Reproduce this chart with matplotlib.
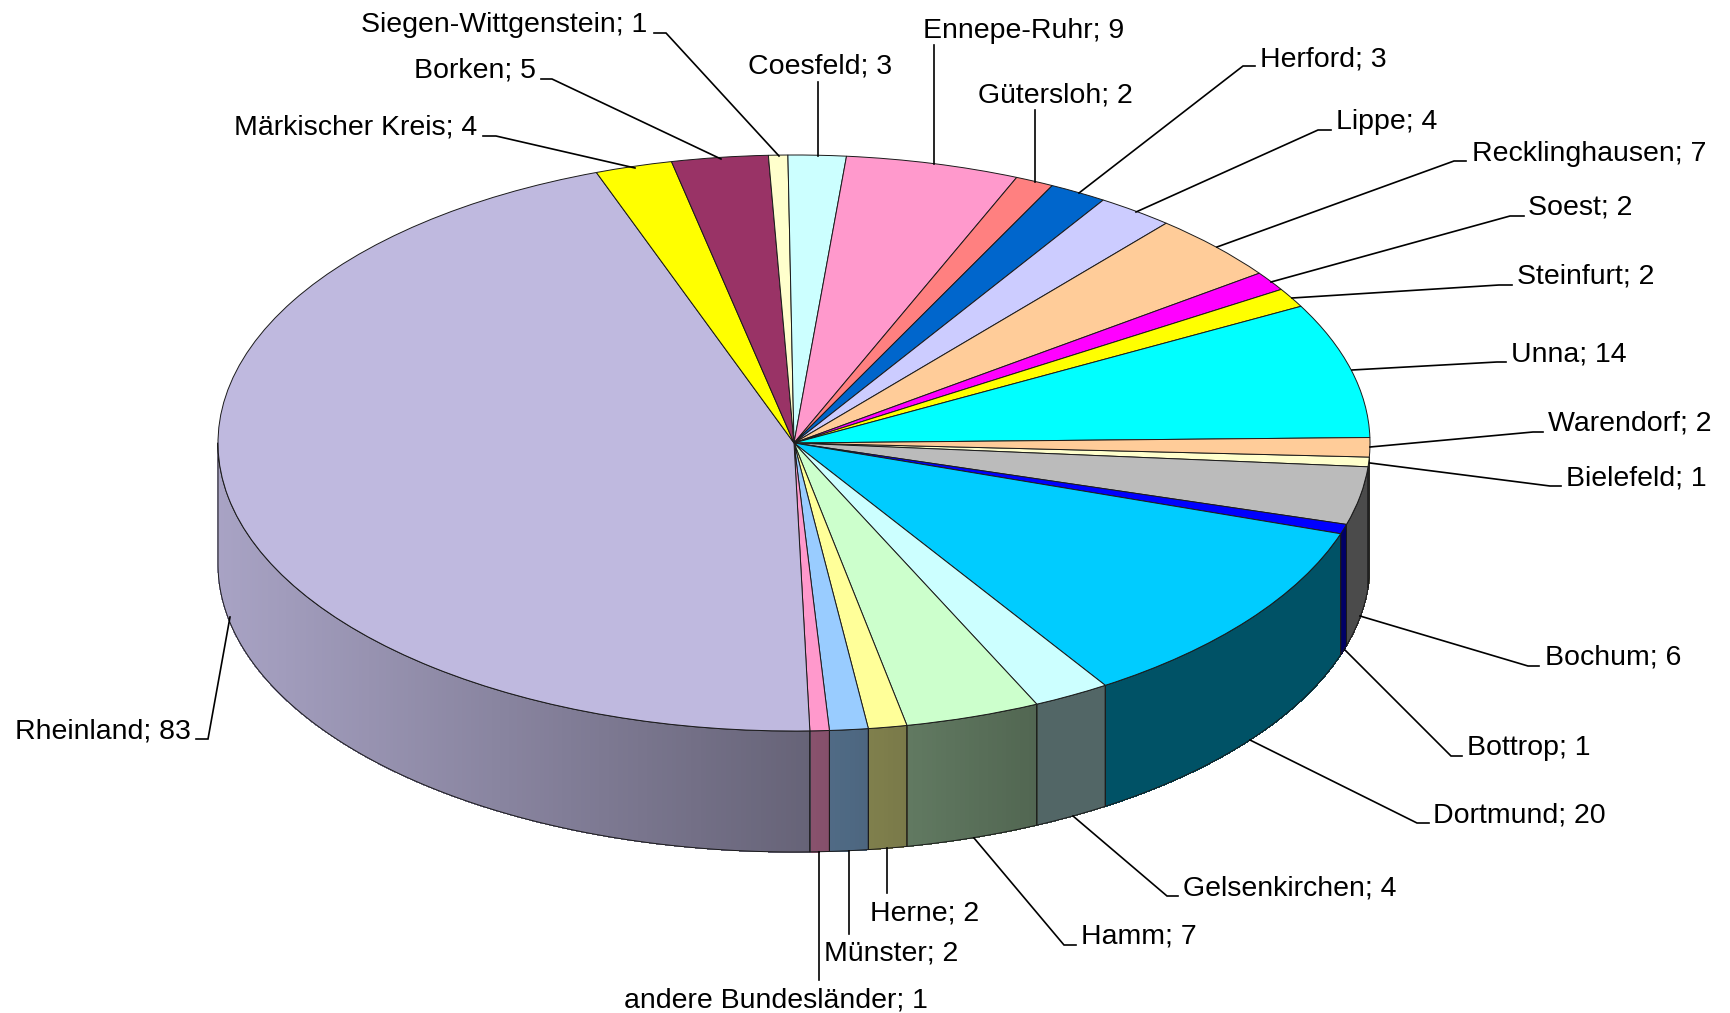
import numpy as np
import matplotlib
matplotlib.use("Agg")
import matplotlib.pyplot as plt
from matplotlib.patches import Polygon

plt.rcParams['font.family'] = ['Liberation Sans', 'DejaVu Sans']

# clockwise, starting just below 3 o'clock
names = ["Bielefeld", "Bochum", "Bottrop", "Dortmund", "Gelsenkirchen", "Hamm", "Herne",
         "Münster", "andere Bundesländer", "Rheinland", "Märkischer Kreis", "Borken",
         "Siegen-Wittgenstein", "Coesfeld", "Ennepe-Ruhr", "Gütersloh", "Herford", "Lippe",
         "Recklinghausen", "Soest", "Steinfurt", "Unna", "Warendorf"]
values = [1, 6, 1, 20, 4, 7, 2, 2, 1, 83, 4, 5, 1, 3, 9, 2, 3, 4, 7, 2, 2, 14, 2]
colors = ["#FFFFCC", "#BBBBBB", "#0000FF", "#00CCFF", "#CCFFFF", "#CCFFCC", "#FFFF99",
          "#99CCFF", "#FF99CC", "#BFB9DF", "#FFFF00", "#993366", "#FFFFCC", "#CCFFFF",
          "#FF99CC", "#FF8080", "#0066CC", "#CCCCFF", "#FFCC99", "#FF00FF", "#FFFF00",
          "#00FFFF", "#FFCC99"]

# label left edge / centre and leader line, in figure pixels
label_pos = [(1566, 478), (1545, 657), (1467, 748), (1433, 815), (1183, 888), (1081, 936),
             (870, 913), (824, 953), (624, 1000), (15, 731), (234, 127), (414, 70),
             (361, 25), (748, 66), (923, 31), (978, 95), (1260, 59), (1336, 122),
             (1472, 154), (1528, 207), (1517, 276), (1511, 354), (1548, 423)]
leaders = [
    [(1561, 486), (1550, 486), (1370, 463)],
    [(1539, 666), (1528, 666), (1360, 616)],
    [(1462, 756), (1451, 756), (1345, 650)],
    [(1429, 823), (1417, 823), (1250, 740)],
    [(1178, 896), (1167, 896), (1073, 816)],
    [(1076, 945), (1064, 945), (974, 838)],
    [(887, 893), (887, 848)],
    [(849, 934), (849, 851)],
    [(819, 980), (819, 852)],
    [(196, 739), (208, 739), (230, 617)],
    [(483, 136), (496, 136), (635, 168)],
    [(541, 79), (552, 79), (721, 159)],
    [(654, 33), (666, 33), (779, 156)],
    [(818, 82), (818, 156)],
    [(934, 45), (934, 164)],
    [(1035, 110), (1035, 182)],
    [(1255, 66), (1243, 66), (1079, 193)],
    [(1331, 130), (1318, 130), (1136, 212)],
    [(1466, 161), (1454, 161), (1217, 247)],
    [(1524, 216), (1510, 216), (1271, 282)],
    [(1512, 285), (1499, 285), (1292, 298)],
    [(1506, 362), (1497, 362), (1352, 370)],
    [(1543, 432), (1533, 432), (1370, 447)],
]

W, H = 1730, 1013
cx, cy, rx, ry, depth = 794, 443, 576, 288, 121
start = 92.8  # clockwise from 12 o'clock
edge = "#1a1a1a"


def shade(u):
    # side wall gets darker from the left edge to about the front right
    return np.interp(u, [-1, 0.04, 0.42, 1], [0.88, 0.53, 0.40, 0.40])


fig = plt.figure(figsize=(W / 100, H / 100), dpi=100)
ax = fig.add_axes([0, 0, 1, 1])

# top face: circle squashed by the non equal axes scale
ax.pie(values, colors=colors, startangle=90 - start, counterclock=False, radius=1,
       wedgeprops=dict(edgecolor=edge, linewidth=0.7), normalize=True)
ax.set_aspect("auto")
ax.set_xlim(-cx / rx, (W - cx) / rx)
ax.set_ylim((cy - H) / ry, cy / ry)
d = depth / ry

# side wall, only the front half shows
angles = start + np.concatenate([[0], np.cumsum(values)]) * 360 / sum(values)
for i, col in enumerate(colors):
    a0, a1 = max(angles[i], 90), min(angles[i + 1], 270)
    if a1 <= a0:
        continue
    t = np.radians(np.linspace(a0, a1, max(2, int((a1 - a0) * 2) + 2)))
    x, y = np.sin(t), np.cos(t)
    base = np.array(matplotlib.colors.to_rgb(col))
    for j in range(len(t) - 1):
        fc = base * shade((x[j] + x[j + 1]) / 2)
        ax.add_patch(Polygon([(x[j], y[j]), (x[j + 1], y[j + 1]),
                              (x[j + 1], y[j + 1] - d), (x[j], y[j] - d)],
                             facecolor=fc, edgecolor=fc, linewidth=0.4, zorder=0.5,
                             antialiased=False))
    outline = np.r_[np.c_[x, y], np.c_[x, y - d][::-1]]
    ax.add_patch(Polygon(outline, fill=False, edgecolor=edge, linewidth=0.7, zorder=0.6))

# labels and leaders in pixel coordinates on top
top = fig.add_axes([0, 0, 1, 1], facecolor="none")
top.set_xlim(0, W)
top.set_ylim(H, 0)
top.axis("off")
for name, val, (lx, ly), line in zip(names, values, label_pos, leaders):
    top.text(lx, ly, f"{name}; {val}", fontsize=20.5, color="black", ha="left", va="center")
    top.plot([p[0] for p in line], [p[1] for p in line], color="black", lw=1.2,
             solid_joinstyle="miter")

fig.savefig("out.png", dpi=100, facecolor="white")
